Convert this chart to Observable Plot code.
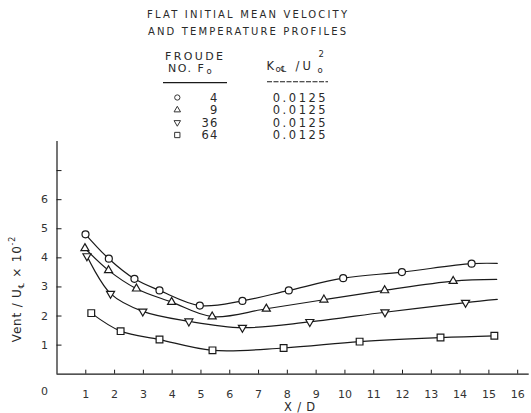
<!DOCTYPE html>
<html><head><meta charset="utf-8">
<script src="https://cdn.jsdelivr.net/npm/d3@7"></script>
<script src="https://cdn.jsdelivr.net/npm/@observablehq/plot@0.6"></script>
<style>body{margin:0;background:#fff} svg{display:block}</style>
</head><body><div id="chart"></div>
<script>
// ---- legend data ----
const froude = [4, 9, 36, 64];
const kRatio = ["0.0125", "0.0125", "0.0125", "0.0125"];
const titleLines = ["FLAT INITIAL MEAN VELOCITY", "AND TEMPERATURE PROFILES"];

// ---- series (X/D, Vent/Uc x 10^-2) ----
const f4X = [0.99, 1.80, 2.69, 3.56, 4.96, 6.44, 8.05, 9.94, 11.98, 14.40];
const f4Y = [4.81, 3.97, 3.28, 2.88, 2.36, 2.52, 2.88, 3.30, 3.51, 3.80];
const f4EndX = [15.29], f4EndY = [3.81];

const f9X = [0.97, 1.79, 2.76, 3.98, 5.39, 7.27, 9.27, 11.38, 13.76];
const f9Y = [4.33, 3.57, 2.94, 2.48, 1.98, 2.25, 2.56, 2.88, 3.20];
const f9EndX = [15.27], f9EndY = [3.26];

const f36X = [1.04, 1.86, 2.98, 4.58, 6.44, 8.78, 11.39, 14.19];
const f36Y = [4.06, 2.77, 2.16, 1.82, 1.60, 1.80, 2.13, 2.46];
const f36EndX = [15.29], f36EndY = [2.57];

const f64X = [1.19, 2.21, 3.56, 5.40, 7.87, 10.51, 13.32, 15.19];
const f64Y = [2.10, 1.48, 1.19, 0.82, 0.90, 1.12, 1.26, 1.32];
const f64EndX = [], f64EndY = [];

// ---- ticks ----
const xTicks = d3.range(1, 17);
const yTicks = [1, 2, 3, 4, 5, 6, 7];
const yTickLabels = ["1", "2", "3", "4", "5", "6", ""];

const triangleDown = {
  draw(context, size) {
    const y = -Math.sqrt(size / (Math.sqrt(3) * 3));
    context.moveTo(0, -y * 2);
    context.lineTo(-Math.sqrt(3) * y, y);
    context.lineTo(Math.sqrt(3) * y, y);
    context.closePath();
  }
};

const series = [
  {xs: f4X, ys: f4Y, ex: f4EndX, ey: f4EndY, symbol: "circle", r: 3.5},
  {xs: f9X, ys: f9Y, ex: f9EndX, ey: f9EndY, symbol: "triangle", r: 3.0},
  {xs: f36X, ys: f36Y, ex: f36EndX, ey: f36EndY, symbol: triangleDown, r: 3.0},
  {xs: f64X, ys: f64Y, ex: f64EndX, ey: f64EndY, symbol: "square", r: 3.8}
];

const ink = "#1a1a1a";
const marks = [];
for (const s of series) {
  const pts = s.xs.map((x, i) => ({x, y: s.ys[i]}));
  const curve = pts.concat(s.ex.map((x, i) => ({x, y: s.ey[i]})));
  marks.push(Plot.line(curve, {x: "x", y: "y", curve: "catmull-rom", stroke: ink, strokeWidth: 1.2}));
}
for (const s of series) {
  const pts = s.xs.map((x, i) => ({x, y: s.ys[i]}));
  marks.push(Plot.dot(pts, {x: "x", y: "y", symbol: s.symbol, r: s.r, fill: "white", stroke: ink, strokeWidth: 1.2}));
}

const chart = Plot.plot({
  width: 531, height: 413,
  marginLeft: 56.5, marginRight: 2.3, marginTop: 141, marginBottom: 39.3,
  x: {domain: [0, 16.4], label: null},
  y: {domain: [0, 8], label: null},
  style: {fontFamily: "DejaVu Sans", fontSize: "11px", color: "#333", background: "white"},
  marks: [
    Plot.ruleY([0], {stroke: ink, strokeWidth: 1.2}),
    Plot.ruleX([0], {stroke: ink, strokeWidth: 1.2}),
    Plot.axisX(xTicks, {tickSize: -4, stroke: ink, tickFormat: () => "", label: null}),
    Plot.axisX(xTicks, {tickSize: 0, tickPadding: 16, label: null, fill: "#333", letterSpacing: 1}),
    Plot.axisY(yTicks, {tickSize: -5, stroke: ink, tickFormat: () => "", label: null}),
    Plot.axisY(yTicks, {tickSize: 0, tickPadding: 0, textAnchor: "middle", dx: -12.5, label: null,
      tickFormat: (d) => yTickLabels[yTicks.indexOf(d)], fill: "#333"}),
    Plot.text([0], {x: (d) => d, frameAnchor: "bottom", dx: -12.5, dy: 21, text: (d) => String(d), fill: "#333"}),
    ...marks
  ]
});

const svg = d3.select(chart);
const font = "DejaVu Sans";
const g = svg.append("g").attr("font-family", font).attr("fill", "#2a2a2a").attr("text-anchor", "start");

// title
g.append("text").attr("x", 147).attr("y", 18).attr("font-size", 10)
  .attr("textLength", 200).attr("lengthAdjust", "spacing").text(titleLines[0]);
g.append("text").attr("x", 148).attr("y", 35).attr("font-size", 10)
  .attr("textLength", 198).attr("lengthAdjust", "spacing").text(titleLines[1]);

// legend headers
g.append("text").attr("x", 165).attr("y", 59.5).attr("font-size", 11)
  .attr("textLength", 58).attr("lengthAdjust", "spacing").text("FROUDE");
g.append("text").attr("x", 168).attr("y", 71.5).attr("font-size", 11)
  .attr("textLength", 23).attr("lengthAdjust", "spacing").text("NO.");
g.append("text").attr("x", 197.5).attr("y", 71.5).attr("font-size", 11).text("F");
g.append("text").attr("x", 206.5).attr("y", 74).attr("font-size", 8.5).text("o");
g.append("line").attr("x1", 163).attr("x2", 227).attr("y1", 82.7).attr("y2", 82.7)
  .attr("stroke", ink).attr("stroke-width", 1.2);

g.append("text").attr("x", 266.5).attr("y", 69.5).attr("font-size", 11.5).text("K");
g.append("text").attr("x", 275.5).attr("y", 71.5).attr("font-size", 8.5).text("o\u2104");
g.append("text").attr("x", 295.5).attr("y", 69.5).attr("font-size", 11.5).text("/");
g.append("text").attr("x", 302.5).attr("y", 69.5).attr("font-size", 11.5).text("U");
g.append("text").attr("x", 317.5).attr("y", 72.5).attr("font-size", 8.5).text("o");
g.append("text").attr("x", 318.5).attr("y", 57).attr("font-size", 8.5).text("2");
g.append("line").attr("x1", 267).attr("x2", 328).attr("y1", 81.7).attr("y2", 81.7)
  .attr("stroke", ink).attr("stroke-width", 1.1).attr("stroke-dasharray", "5 1.5");

// legend rows
const legendSymbols = [d3.symbolCircle, d3.symbolTriangle, triangleDown, d3.symbolSquare];
const legendSizes = [22, 18, 18, 28];
froude.forEach((f, i) => {
  const cy = 97.5 + 12.5 * i;
  g.append("path").attr("d", d3.symbol(legendSymbols[i], legendSizes[i])())
    .attr("transform", `translate(177.3,${cy})`).attr("fill", "white").attr("stroke", "#333").attr("stroke-width", 1);
  g.append("text").attr("x", 218.5).attr("y", cy + 4.3).attr("font-size", 11.5).attr("text-anchor", "end")
    .attr("letter-spacing", 1.2).text(String(f));
  g.append("text").attr("x", 272.7).attr("y", cy + 4.3).attr("font-size", 11.5)
    .attr("textLength", 53).attr("lengthAdjust", "spacing").text(kRatio[i]);
});

// axis labels
g.append("text").attr("x", 300).attr("y", 410.5).attr("font-size", 11.5).attr("text-anchor", "middle")
  .attr("letter-spacing", 0.8).text("X / D");
const yl = g.append("text").attr("transform", "translate(21,289) rotate(-90)")
  .attr("font-size", 12).attr("text-anchor", "middle").attr("letter-spacing", 0.8);
yl.append("tspan").text("Vent / U");
yl.append("tspan").attr("font-size", 8).attr("dy", 3).text("\u2104");
yl.append("tspan").attr("dy", -3).text(" \u00d7 10");
yl.append("tspan").attr("font-size", 8).attr("dy", -6).text("-2");

document.getElementById("chart").appendChild(chart);
</script>
</body></html>
